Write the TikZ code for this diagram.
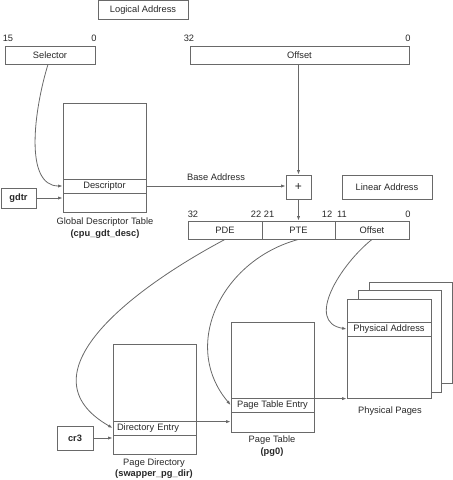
\documentclass[tikz,border=0pt]{standalone}
\usepackage{fontspec}
\setmainfont{Liberation Sans}
\usetikzlibrary{arrows.meta,calc}
\definecolor{ln}{RGB}{105,105,105}
\definecolor{tx}{RGB}{40,40,40}
\begin{document}
\begin{tikzpicture}[x=1pt,y=-1pt,
  font=\fontsize{9.3}{11}\selectfont, text=tx,
  box/.style={draw=ln, line width=0.8pt, inner sep=0pt, fill=white},
  lbl/.style={inner sep=0pt},
  arr/.style={draw=ln, line width=0.8pt, -{Latex[length=4.5pt,width=3.2pt]}}]
\useasboundingbox (0,0) rectangle (453,480);
% logical address
\node[box, minimum width=90pt, minimum height=18.5pt] (la) at (143,9.75) {Logical Address};
\node[lbl] (s15) at (8,38) {15};
\node[lbl] (s0) at (94,38) {0};
\node[box, minimum width=90pt, minimum height=18pt] (sel) at (50,55) {Selector};
\node[lbl] (o32) at (189,38) {32};
\node[lbl] (o0) at (408,38) {0};
\node[box, minimum width=219pt, minimum height=18pt] (off) at (299.5,55) {Offset};
% GDT
\node[box, minimum width=83pt, minimum height=109pt] (gdt) at (104.5,157.5) {};
\node[box, minimum width=83pt, minimum height=14pt] (desc) at (104.5,186) {Descriptor};
\node[lbl] (gdtl1) at (105,222) {Global Descriptor Table};
\node[lbl] (gdtl2) at (105,234) {\bfseries (cpu\_gdt\_desc)};
\node[box, minimum width=35pt, minimum height=20pt] (gdtr) at (18.5,198) {\bfseries gdtr};
% plus and linear
\node[box, minimum width=25pt, minimum height=24pt, font=\fontsize{12}{12}\selectfont] (plus) at (298.5,187) {+};
\node[box, minimum width=90pt, minimum height=24pt] (lin) at (387,187) {Linear Address};
\node[box, minimum width=74pt, minimum height=18pt] (pde) at (225,230) {PDE};
\node[box, minimum width=73pt, minimum height=18pt] (pte) at (298.5,230) {PTE};
\node[box, minimum width=74pt, minimum height=18pt] (loff) at (372,230) {Offset};
\node[lbl] (l32) at (193,214) {32};
\node[lbl] (l22) at (256,214) {22};
\node[lbl] (l21) at (269,214) {21};
\node[lbl] (l12) at (327,214) {12};
\node[lbl] (l11) at (342,214) {11};
\node[lbl] (l0) at (408,214) {0};
% physical pages
\node[box, minimum width=83pt, minimum height=101pt] (pg3) at (410.5,332.5) {};
\node[box, minimum width=83pt, minimum height=102pt] (pg2) at (399.5,341) {};
\node[box, minimum width=84pt, minimum height=99pt] (front) at (389,348.5) {};
\node[box, minimum width=84pt, minimum height=14pt] (pa) at (389,329) {Physical Address};
\node[lbl] (ppl) at (390,411) {Physical Pages};
% page table
\node[box, minimum width=83pt, minimum height=110pt] (pt) at (272.5,377) {};
\node[box, minimum width=83pt, minimum height=14pt] (ptentry) at (272.5,405) {Page Table Entry};
\node[lbl] (ptl1) at (272,440) {Page Table};
\node[lbl] (ptl2) at (272,452) {\bfseries (pg0)};
% page directory
\node[box, minimum width=83pt, minimum height=110pt] (pd) at (154.5,399) {};
\node[box, minimum width=83pt, minimum height=14pt, text width=75pt, align=left] (de) at (154.5,428) {Directory Entry};
\node[lbl] (pdl1) at (154,463) {Page Directory};
\node[lbl] (pdl2) at (154,474) {\bfseries (swapper\_pg\_dir)};
\node[box, minimum width=36pt, minimum height=24pt] (cr3) at (75,438) {\bfseries cr3};
% connectors
\draw[arr] ([xshift=-2pt]sel.south) .. controls (34,110) and (24,186) .. (desc.west);
\draw[arr] (gdtr.east) -- (gdtr.east -| gdt.west);
\draw[arr] (desc.east) -- node[lbl, above=5pt, pos=0.5] (ba) {Base Address} (desc.east -| plus.west);
\draw[arr] (plus.north |- off.south) -- (plus.north);
\draw[arr] (plus.south) -- (plus.south |- pte.north);
\draw[arr] (pde.south) .. controls (130,290) and (20,375) .. (de.west);
\draw[arr] (pte.south) .. controls (222,260) and (180,345) .. (ptentry.west);
\draw[arr] (loff.south) .. controls (340,265) and (305,322) .. (pa.west);
\draw[arr] ([yshift=-1pt]ptentry.north east) -- ([yshift=-1pt]ptentry.north east -| front.west);
\draw[arr] ([yshift=-1pt]de.north east) -- ([yshift=-1pt]de.north east -| pt.west);
\draw[arr] (cr3.east) -- (cr3.east -| pd.west);
\end{tikzpicture}
\end{document}
